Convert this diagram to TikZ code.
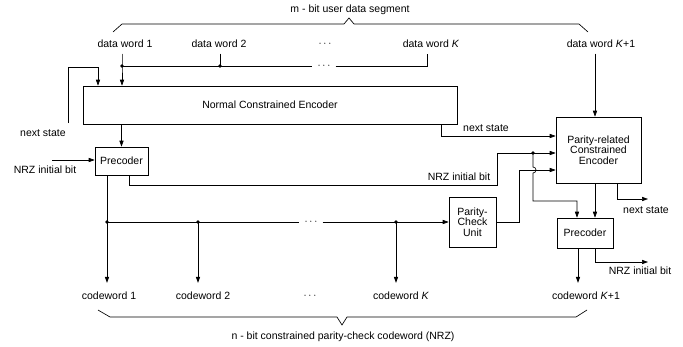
\documentclass[tikz,border=0pt]{standalone}
\usepackage{fontspec}
\setmainfont{Liberation Sans}
\usetikzlibrary{arrows.meta,calc}
\begin{document}
\begin{tikzpicture}[x=1pt,y=-1pt, line width=0.65pt,
  arr/.style={-{Triangle[length=6pt,width=4.2pt]}},
  box/.style={draw, inner sep=0pt, align=center, font=\fontsize{10.5}{10.5}\selectfont},
  lbl/.style={inner xsep=0pt, inner ysep=5.5pt, font=\fontsize{10.5}{11}\selectfont},
  cwl/.style={lbl, inner ysep=9pt},
  dotsl/.style={inner xsep=5pt, inner ysep=0pt, font=\fontsize{10.5}{11}\selectfont},
  jdot/.style={circle, fill, inner sep=0pt, minimum size=3.6pt}]
\useasboundingbox (0,0) rectangle (683,346);

% boxes
\node[box, minimum width=374pt, minimum height=38pt] (enc) at (270,105) {Normal Constrained Encoder};
\node[box, minimum width=53pt, minimum height=28pt] (pre1) at (121.5,161) {Precoder};
\node[box, minimum width=85pt, minimum height=66pt] (prce) at (598.5,150) {Parity-related\\Constrained\\Encoder};
\node[box, minimum width=47pt, minimum height=50pt] (pcu) at (472.5,222) {Parity-\\Check\\Unit};
\node[box, minimum width=56pt, minimum height=30pt] (pre2) at (585,233) {Precoder};

% labels
\node[lbl] (top) at (350,10) {m - bit user data segment};
\node[lbl] (dw1) at (125,44) {data word 1};
\node[lbl] (dw2) at (219,44) {data word 2};
\node[lbl] (dwd) at (325,44) {$\cdots$};
\node[lbl] (dwK) at (431,44) {data word \textit{K}};
\node[lbl] (dwK1) at (601,44) {data word \textit{K}+1};
\node[lbl] (ns1) at (43,133) {next state};
\node[lbl] (nrz1) at (45,170) {NRZ initial bit};
\node[lbl] (ns2) at (486,128) {next state};
\node[lbl] (nrz2) at (459,177) {NRZ initial bit};
\node[lbl] (ns3) at (646,210) {next state};
\node[lbl] (nrz3) at (640,271) {NRZ initial bit};
\node[cwl] (cw1) at (109,296) {codeword 1};
\node[cwl] (cw2) at (203,296) {codeword 2};
\node[cwl] (cwd) at (310,296) {$\cdots$};
\node[cwl] (cwK) at (401,296) {codeword \textit{K}};
\node[cwl] (cwK1) at (586,296) {codeword \textit{K}+1};
\node[lbl] (bot) at (343,337) {n - bit constrained parity-check codeword (NRZ)};
\node[dotsl] (bd) at (324,66) {$\cdots$};
\node[dotsl] (cd) at (311,222) {$\cdots$};

% coordinates
\coordinate (j1) at (122,66);
\coordinate (j2) at (220,66);
\coordinate (jK) at (427,66);
\coordinate (fbL) at (68,123);
\coordinate (fbT) at (68,67);
\coordinate (fbR) at (98,67);
\coordinate (nrzin) at (52,160);
\coordinate (jc1) at (107,222);
\coordinate (jc2) at (198,222);
\coordinate (jcK) at (396,222);
\coordinate (nsA) at (441,136);
\coordinate (p1a) at (129,185);
\coordinate (p1b) at (497,185);
\coordinate (p1c) at (497,153);
\coordinate (jn) at (533,153);
\coordinate (pcuA) at (519,222);
\coordinate (pcuB) at (519,170);
\coordinate (brA) at (533,201);
\coordinate (brB) at (577,201);
\coordinate (ns3a) at (617,199);
\coordinate (ns3b) at (648,199);
\coordinate (nrz3a) at (595,262);
\coordinate (nrz3b) at (648,262);

% data word bus
\draw[arr] (j1 |- dw1.south) -- (j1) -- (j1 |- enc.north);
\draw (j2 |- dw2.south) -- (j2);
\draw (j1) -- (bd.west);
\draw (bd.east) -- (jK) -- (jK |- dwK.south);
\node[jdot] at (j1) {};
\node[jdot] at (j2) {};

% feedback next state
\draw[arr] (fbL) -- (fbT) -- (fbR) -- (fbR |- enc.north);
% encoder -> precoder
\draw[arr] (enc.south -| pre1.north) -- (pre1.north);
\draw[arr] (nrzin) -- (nrzin -| pre1.west);
% data word K+1
\draw[arr] ([xshift=-6pt]dwK1.south) -- ([xshift=-6pt]dwK1.south |- prce.north);
% encoder next state
\draw[arr] (nsA |- enc.south) -- (nsA) -- (nsA -| prce.west);
% precoder 1 NRZ bit
\draw[arr] (p1a |- pre1.south) -- (p1a) -- (p1b) -- (p1c) -- (p1c -| prce.west);
\node[jdot] at (jn) {};

% codeword bus
\draw (jc1 |- pre1.south) -- (jc1);
\draw[arr] (jc1) -- (jc1 |- cw1.north);
\draw[arr] (jc2) -- (jc2 |- cw2.north);
\draw[arr] (jcK) -- (jcK |- cwK.north);
\draw (jc1) -- (cd.west);
\draw[arr] (cd.east) -- (pcu.west);
\node[jdot] at (jc1) {};
\node[jdot] at (jc2) {};
\node[jdot] at (jcK) {};

% parity check output
\draw[arr] (pcu.east) -- (pcuA) -- (pcuB) -- (pcuB -| prce.west);
% branch with jump
\draw[arr] (jn) -- ($(jn |- pcuB)+(0,-3)$) arc[start angle=90, end angle=-90, radius=3pt] -- (brA) -- (brB) -- (brB |- pre2.north);
\draw[arr] ([xshift=-3.5pt]prce.south) -- ([xshift=-3.5pt]prce.south |- pre2.north);
\draw[arr] (prce.south -| ns3a) -- (ns3a) -- (ns3b);
\draw[arr] ([xshift=-7pt]pre2.south) -- ([xshift=-7pt]pre2.south |- cwK1.north);
\draw[arr] (pre2.south -| nrz3a) -- (nrz3a) -- (nrz3b);

% braces
\draw (113,32) -- (122,24) -- (344,24) -- (349,18) -- (354,24) -- (579,24) -- (588,32);
\draw (98,310) -- (110,317) -- (337,317) -- (342,325) -- (347,317) -- (576,317) -- (587,310);
\end{tikzpicture}
\end{document}
